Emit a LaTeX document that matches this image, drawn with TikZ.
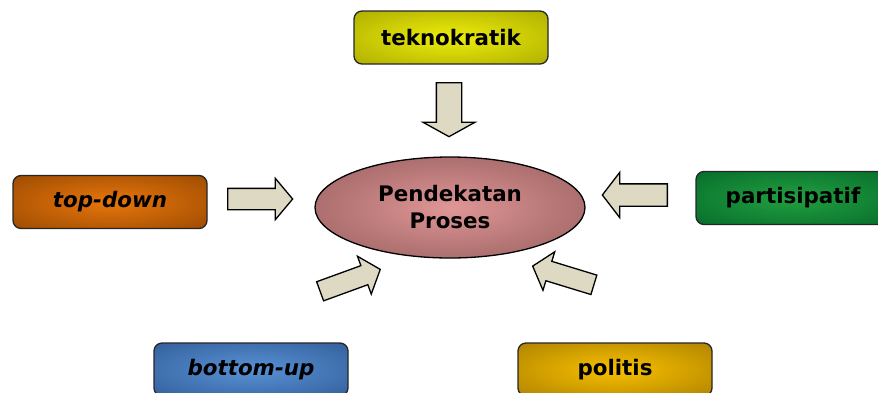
\documentclass[tikz,border=0pt]{standalone}
\usepackage{fontspec}
\setmainfont{DejaVu Sans}
\usetikzlibrary{shapes.geometric, shapes.arrows}
\definecolor{tanpanah}{RGB}{221,217,195}
\definecolor{kuningA}{RGB}{238,238,10}
\definecolor{kuningB}{RGB}{160,160,0}
\definecolor{oranyeA}{RGB}{232,118,12}
\definecolor{oranyeB}{RGB}{140,66,0}
\definecolor{hijauA}{RGB}{34,160,64}
\definecolor{hijauB}{RGB}{0,98,38}
\definecolor{biruA}{RGB}{88,146,214}
\definecolor{biruB}{RGB}{44,84,142}
\definecolor{emasA}{RGB}{248,192,0}
\definecolor{emasB}{RGB}{160,118,0}
\definecolor{merahA}{RGB}{224,150,150}
\definecolor{merahB}{RGB}{132,80,80}
\makeatletter
\pgfdeclareradialshading[tikz@radial@inner,tikz@radial@outer]{lembut}{\pgfpointorigin}{color(0bp)=(tikz@radial@inner);color(44bp)=(tikz@radial@outer);color(50bp)=(tikz@radial@outer)}
\makeatother

\begin{document}
\begin{tikzpicture}[x=1pt, y=-1pt,
  kotak/.style={draw=black!85, line width=1.3pt, rounded corners=8pt, minimum width=194pt, minimum height=53pt, inner sep=0pt, font=\fontsize{21.4}{24}\selectfont\bfseries},
  panah/.style={single arrow, draw=black, line width=1.3pt, fill=tanpanah, line join=miter, anchor=tail}]
\clip (0,0) rectangle (878,392);
\node[draw=black, line width=1.3pt, ellipse, minimum width=270pt, minimum height=101pt, inner sep=0pt, inner color=merahA, outer color=merahB, shading=lembut, align=center, font=\fontsize{21.4}{27}\selectfont\bfseries] (proses) at (450,207.5) {Pendekatan\\Proses};
\node[kotak, inner color=kuningA, outer color=kuningB, shading=lembut] (tekno) at (451,37.5) {teknokratik};
\node[kotak, inner color=oranyeA, outer color=oranyeB, shading=lembut] (topdown) at (110,202) {\itshape top-down};
\node[kotak, inner color=hijauA, outer color=hijauB, shading=lembut] (partisi) at (793,198) {partisipatif};
\node[kotak, inner color=biruA, outer color=biruB, shading=lembut] (bottomup) at (251,369.5) {\itshape bottom-up};
\node[kotak, inner color=emasA, outer color=emasB, shading=lembut] (politis) at (615,369.5) {politis};
\node[panah, rotate=-90, inner sep=12pt, single arrow head extend=13.5pt, single arrow tip angle=122, minimum height=54pt] (pTekno) at (449,82) {};
\node[panah, inner sep=10pt, single arrow head extend=10pt, single arrow tip angle=100, minimum height=65pt] (pTopdown) at (227,199) {};
\node[panah, rotate=180, inner sep=10.5pt, single arrow head extend=11.5pt, single arrow tip angle=105, minimum height=65pt] (pPartisi) at (668,195) {};
\node[panah, rotate=20, inner sep=9.5pt, single arrow head extend=10pt, single arrow tip angle=100, minimum height=64pt] (pBottomup) at (319.5,291.5) {};
\node[panah, rotate=163, inner sep=9.5pt, single arrow head extend=10pt, single arrow tip angle=100, minimum height=64pt] (pPolitis) at (594.5,285) {};
\end{tikzpicture}
\end{document}
